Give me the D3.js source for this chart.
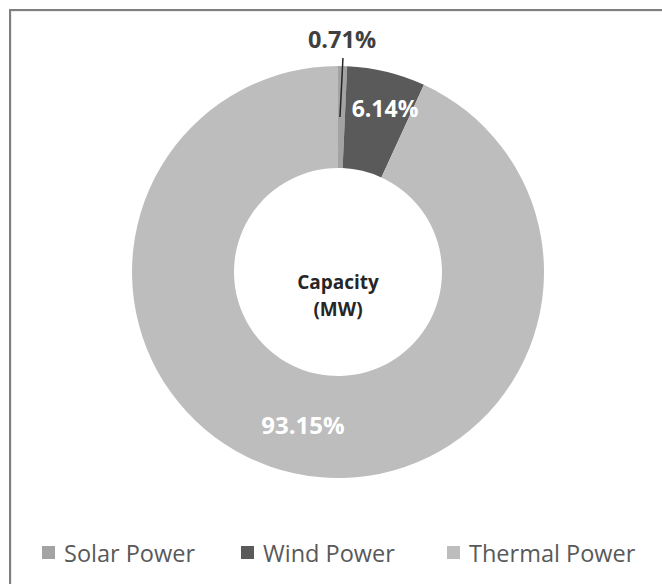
<!DOCTYPE html>
<html><head><meta charset="utf-8">
<script src="https://cdn.jsdelivr.net/npm/d3@7"></script>
<style>body{margin:0;background:#fff}svg{display:block}</style>
</head><body>
<svg id="c" width="662" height="584"></svg>
<script>
const categories = ["Solar Power", "Wind Power", "Thermal Power"];
const values = [0.71, 6.14, 93.15];
const valueLabels = ["0.71%", "6.14%", "93.15%"];
const colors = ["#a3a3a3", "#5a5a5a", "#bdbdbd"];
const centerLines = ["Capacity", "(MW)"];

const svg = d3.select("#c");
const font = "'Open Sans', Lato, sans-serif";

// frame
svg.append("rect").attr("x", 11).attr("y", 11).attr("width", 700).attr("height", 700)
  .attr("fill", "none").attr("stroke", "#d8d8d8").attr("stroke-width", 1);
svg.append("rect").attr("x", 10).attr("y", 10).attr("width", 700).attr("height", 700)
  .attr("fill", "none").attr("stroke", "#7f7f7f").attr("stroke-width", 2);

const cx = 338, cy = 272, R = 206, r = 104;
const g = svg.append("g").attr("transform", `translate(${cx},${cy})`);
const pie = d3.pie().sort(null).value(d => d)(values);
const arc = d3.arc().innerRadius(r).outerRadius(R);
const mid = d3.arc().innerRadius((r + R) / 2).outerRadius((r + R) / 2);

g.selectAll("path.s").data(pie).join("path").attr("class", "s")
  .attr("d", arc).attr("fill", (d, i) => colors[i]);

// solar label with leader line
const c0 = mid.centroid(pie[0]);
g.append("line").attr("x1", c0[0] - 1.5).attr("y1", c0[1]).attr("x2", c0[0] + 1.5).attr("y2", -214)
  .attr("stroke", "#262626").attr("stroke-width", 1.5);
g.append("text").attr("x", 4).attr("y", -233).attr("text-anchor", "middle")
  .attr("dominant-baseline", "central")
  .attr("font-family", font).attr("font-weight", "bold").attr("font-size", 23.5)
  .attr("fill", "#404040").text(valueLabels[0]);

// wind label
g.append("text").attr("x", 47).attr("y", -164).attr("text-anchor", "middle")
  .attr("dominant-baseline", "central")
  .attr("font-family", font).attr("font-weight", "bold").attr("font-size", 23)
  .attr("fill", "#ffffff").text(valueLabels[1]);

// thermal label
g.append("text").attr("x", -35).attr("y", 152).attr("text-anchor", "middle")
  .attr("dominant-baseline", "central")
  .attr("font-family", font).attr("font-weight", "bold").attr("font-size", 24)
  .attr("fill", "#ffffff").text(valueLabels[2]);

// center text
g.selectAll("text.ct").data(centerLines).join("text").attr("class", "ct")
  .attr("x", 0).attr("y", (d, i) => 17 + i * 27).attr("text-anchor", "middle")
  .attr("font-family", font).attr("font-weight", "bold").attr("font-size", 19)
  .attr("fill", "#262626").text(d => d);

// legend
const legX = [42, 241, 447];
const lg = svg.append("g");
categories.forEach((c, i) => {
  lg.append("rect").attr("x", legX[i]).attr("y", 546).attr("width", 13).attr("height", 13)
    .attr("fill", colors[i]);
  lg.append("text").attr("x", legX[i] + 22).attr("y", 553).attr("dominant-baseline", "central")
    .attr("font-family", font).attr("font-size", 23.5).attr("fill", "#595959").text(c);
});
</script>
</body></html>
